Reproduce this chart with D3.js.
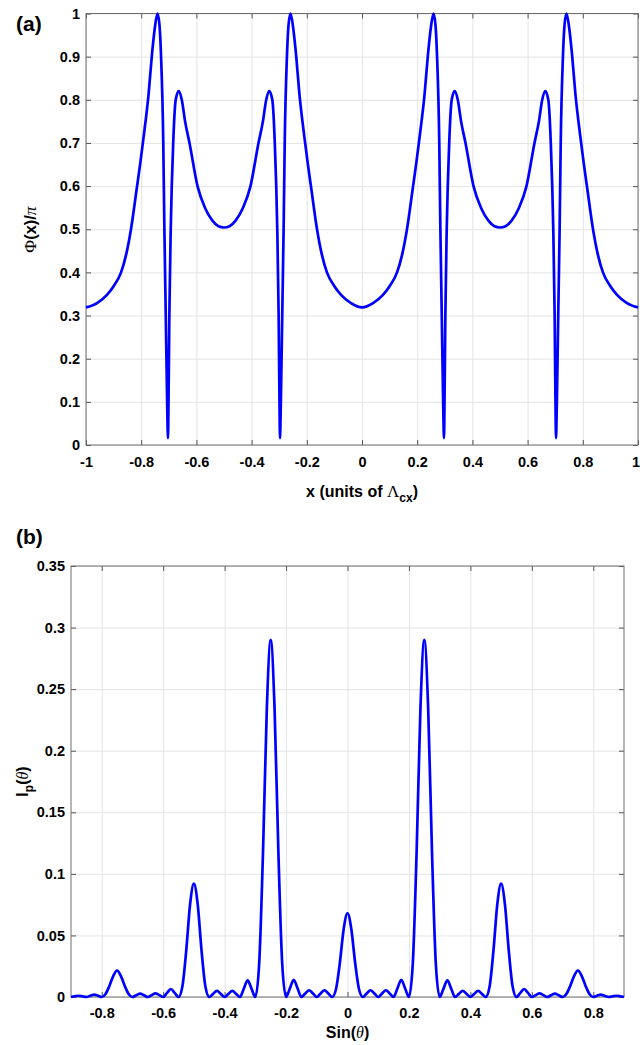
<!DOCTYPE html>
<html lang="en">
<head>
<meta charset="UTF-8">
<title>Phase and far field</title>
<script src="https://d3js.org/d3.v7.min.js"></script>
<style>
  body { margin: 0; background: #fff; }
  svg { display: block; font-family: "Liberation Sans", Arial, Helvetica, sans-serif; }
</style>
</head>
<body>
<div id="container"></div>
<script>
// (a) phase profile Phi(x)/pi
var phiX = [
  -1.000,-0.960,-0.924,-0.900,-0.873,-0.855,-0.837,-0.816,-0.803,-0.792,
  -0.773,-0.761,-0.750,-0.741,-0.734,-0.728,-0.720,-0.716,-0.711,-0.706,
  -0.703,-0.701,-0.698,-0.693,-0.684,-0.675,-0.664,-0.653,-0.641,-0.625,
  -0.596,-0.569,-0.542,-0.520,-0.500,-0.480,-0.458,-0.431,-0.404,-0.375,
  -0.359,-0.347,-0.336,-0.325,-0.316,-0.307,-0.302,-0.299,-0.297,-0.294,
  -0.289,-0.284,-0.280,-0.272,-0.266,-0.259,-0.250,-0.239,-0.227,-0.208,
  -0.197,-0.184,-0.163,-0.145,-0.127,-0.100,-0.076,-0.040,0.000,
  0.040,0.076,0.100,0.127,0.145,0.163,0.184,0.197,0.208,0.227,
  0.239,0.250,0.259,0.266,0.272,0.280,0.284,0.289,0.294,0.297,
  0.299,0.302,0.307,0.316,0.325,0.336,0.347,0.359,0.375,0.404,
  0.431,0.458,0.480,0.500,0.520,0.542,0.569,0.596,0.625,0.641,
  0.653,0.664,0.675,0.684,0.693,0.698,0.701,0.703,0.706,0.711,
  0.716,0.720,0.728,0.734,0.741,0.750,0.761,0.773,0.792,0.803,
  0.816,0.837,0.855,0.873,0.900,0.924,0.960,1.000
];
var phiY = [
  0.319,0.329,0.348,0.368,0.400,0.440,0.500,0.595,0.655,0.710,
  0.815,0.905,0.970,1.000,0.975,0.900,0.700,0.500,0.300,0.100,
  0.016,0.100,0.300,0.500,0.700,0.800,0.820,0.800,0.750,0.700,
  0.600,0.550,0.520,0.507,0.504,0.507,0.520,0.550,0.600,0.700,
  0.750,0.800,0.820,0.800,0.700,0.500,0.300,0.100,0.016,0.100,
  0.300,0.500,0.700,0.900,0.975,1.000,0.970,0.905,0.815,0.710,
  0.655,0.595,0.500,0.440,0.400,0.368,0.348,0.329,0.319,
  0.329,0.348,0.368,0.400,0.440,0.500,0.595,0.655,0.710,0.815,
  0.905,0.970,1.000,0.975,0.900,0.700,0.500,0.300,0.100,0.016,
  0.100,0.300,0.500,0.700,0.800,0.820,0.800,0.750,0.700,0.600,
  0.550,0.520,0.507,0.504,0.507,0.520,0.550,0.600,0.700,0.750,
  0.800,0.820,0.800,0.700,0.500,0.300,0.100,0.016,0.100,0.300,
  0.500,0.700,0.900,0.975,1.000,0.970,0.905,0.815,0.710,0.655,
  0.595,0.500,0.440,0.400,0.368,0.348,0.329,0.319
];

// (b) far-field intensity I_p(theta) against sin(theta)
var sinX = [
  -0.900,-0.888,-0.876,-0.863,-0.850,-0.837,-0.824,-0.812,-0.800,-0.7875,
  -0.775,-0.7625,-0.750,-0.7375,-0.725,-0.7125,-0.700,-0.6875,-0.675,-0.6625,
  -0.650,-0.6375,-0.625,-0.6125,-0.600,-0.5875,-0.575,-0.5625,-0.550,-0.5375,
  -0.525,-0.5125,-0.500,-0.4875,-0.475,-0.4625,-0.450,-0.4375,-0.425,-0.4125,
  -0.400,-0.3875,-0.375,-0.3625,-0.350,-0.3375,-0.325,-0.3125,-0.300,-0.2875,
  -0.275,-0.2625,-0.250,-0.2375,-0.225,-0.2125,-0.200,-0.1875,-0.175,-0.1625,
  -0.150,-0.1375,-0.125,-0.1125,-0.100,-0.0875,-0.075,-0.0625,-0.050,-0.0375,
  -0.025,-0.0125,0.000,
  0.0125,0.025,0.0375,0.050,0.0625,0.075,0.0875,0.100,0.1125,0.125,
  0.1375,0.150,0.1625,0.175,0.1875,0.200,0.2125,0.225,0.2375,0.250,
  0.2625,0.275,0.2875,0.300,0.3125,0.325,0.3375,0.350,0.3625,0.375,
  0.3875,0.400,0.4125,0.425,0.4375,0.450,0.4625,0.475,0.4875,0.500,
  0.5125,0.525,0.5375,0.550,0.5625,0.575,0.5875,0.600,0.6125,0.625,
  0.6375,0.650,0.6625,0.675,0.6875,0.700,0.7125,0.725,0.7375,0.750,
  0.7625,0.775,0.7875,0.800,0.812,0.824,0.837,0.850,0.863,0.876,
  0.888,0.900
];
var intY = [
  0.0000,0.0006,0.0010,0.0006,0.0000,0.0010,0.0020,0.0010,0.0000,0.0025,
  0.0090,0.0170,0.0215,0.0170,0.0090,0.0025,0.0000,0.0014,0.0027,0.0014,
  0.0000,0.0015,0.0030,0.0015,0.0000,0.0033,0.0065,0.0033,0.0000,0.0085,
  0.0375,0.0750,0.0920,0.0750,0.0375,0.0085,0.0000,0.0025,0.0050,0.0025,
  0.0000,0.0025,0.0050,0.0025,0.0000,0.0068,0.0135,0.0068,0.0000,0.0270,
  0.1180,0.2350,0.2900,0.2350,0.1180,0.0270,0.0000,0.0070,0.0140,0.0070,
  0.0000,0.0028,0.0055,0.0028,0.0000,0.0028,0.0055,0.0028,0.0000,0.0063,
  0.0275,0.0550,0.0680,
  0.0550,0.0275,0.0063,0.0000,0.0028,0.0055,0.0028,0.0000,0.0028,0.0055,
  0.0028,0.0000,0.0070,0.0140,0.0070,0.0000,0.0270,0.1180,0.2350,0.2900,
  0.2350,0.1180,0.0270,0.0000,0.0068,0.0135,0.0068,0.0000,0.0025,0.0050,
  0.0025,0.0000,0.0025,0.0050,0.0025,0.0000,0.0085,0.0375,0.0750,0.0920,
  0.0750,0.0375,0.0085,0.0000,0.0033,0.0065,0.0033,0.0000,0.0015,0.0030,
  0.0015,0.0000,0.0014,0.0027,0.0014,0.0000,0.0025,0.0090,0.0170,0.0215,
  0.0170,0.0090,0.0025,0.0000,0.0010,0.0020,0.0010,0.0000,0.0006,0.0010,
  0.0006,0.0000
];

// tick values
var phiXTicks = [-1,-0.8,-0.6,-0.4,-0.2,0,0.2,0.4,0.6,0.8,1];
var phiYTicks = [0,0.1,0.2,0.3,0.4,0.5,0.6,0.7,0.8,0.9,1];
var sinXTicks = [-0.8,-0.6,-0.4,-0.2,0,0.2,0.4,0.6,0.8];
var intYTicks = [0,0.05,0.1,0.15,0.2,0.25,0.3,0.35];

var width = 640, height = 1045;
var svg = d3.select("#container").append("svg").attr("width", width).attr("height", height);

var fmt = function(d) { return String(+d.toFixed(2)); };

function drawPanel(p) {
  var w = p.right - p.left, h = p.bottom - p.top;
  var x = d3.scaleLinear().domain(p.xDomain).range([0, w]);
  var y = d3.scaleLinear().domain(p.yDomain).range([h, 0]);
  var g = svg.append("g").attr("transform", `translate(${p.left},${p.top})`);

  // grid
  g.append("g").attr("class", "grid").attr("transform", `translate(0,${h})`)
    .call(d3.axisBottom(x).tickValues(p.xTicks).tickSize(-h).tickFormat(""));
  g.append("g").attr("class", "grid")
    .call(d3.axisLeft(y).tickValues(p.yTicks).tickSize(-w).tickFormat(""));
  g.selectAll(".grid path").remove();
  g.selectAll(".grid line").attr("stroke", "#e4e4e4").attr("stroke-width", 1);

  // axes, ticks pointing inward on all four sides
  var bottom = g.append("g").attr("transform", `translate(0,${h})`)
    .call(d3.axisBottom(x).tickValues(p.xTicks).tickSizeInner(-5).tickSizeOuter(0)
      .tickPadding(p.xPad).tickFormat(fmt));
  var left = g.append("g")
    .call(d3.axisLeft(y).tickValues(p.yTicks).tickSizeInner(-5).tickSizeOuter(0)
      .tickPadding(6).tickFormat(fmt));
  var top = g.append("g")
    .call(d3.axisTop(x).tickValues(p.xTicks).tickSizeInner(-5).tickSizeOuter(0).tickFormat(""));
  var right = g.append("g").attr("transform", `translate(${w},0)`)
    .call(d3.axisRight(y).tickValues(p.yTicks).tickSizeInner(-5).tickSizeOuter(0).tickFormat(""));
  [bottom, left, top, right].forEach(function(a) {
    a.select(".domain").remove();
    a.selectAll("line").attr("stroke", "#555");
    a.selectAll("text").attr("font-size", 14.5).attr("font-weight", "bold")
      .attr("fill", "#000").attr("font-family", "Liberation Sans, Arial, sans-serif");
  });
  // keep the last label inside the page
  bottom.selectAll("text").filter(function(d) { return p.left + x(d) + 5 > width; })
    .attr("dx", -2.5);

  g.append("rect").attr("width", w).attr("height", h)
    .attr("fill", "none").attr("stroke", "#6e6e6e").attr("stroke-width", 1);

  // curve
  var line = d3.line()
    .x(function(d, i) { return x(p.xs[i]); })
    .y(function(d) { return y(d); })
    .curve(d3.curveMonotoneX);
  g.append("path").datum(p.ys)
    .attr("fill", "none")
    .attr("stroke", "#0000ff")
    .attr("stroke-width", 2.7)
    .attr("stroke-linejoin", "round")
    .attr("d", line);
}

drawPanel({left: 86, right: 638, top: 13.5, bottom: 445,
  xDomain: [-1, 1], yDomain: [0, 1], xTicks: phiXTicks, yTicks: phiYTicks,
  xs: phiX, ys: phiY, xPad: 12});

drawPanel({left: 71, right: 624, top: 566, bottom: 997,
  xDomain: [-0.9, 0.9], yDomain: [0, 0.35], xTicks: sinXTicks, yTicks: intYTicks,
  xs: sinX, ys: intY, xPad: 11});

// panel letters
svg.append("text").attr("x", 16).attr("y", 30.5).attr("font-size", 21).attr("font-weight", "bold").text("(a)");
svg.append("text").attr("x", 16).attr("y", 543.5).attr("font-size", 21).attr("font-weight", "bold").text("(b)");

var serif = "Liberation Serif, DejaVu Serif, serif";

// (a) axis labels
var xa = svg.append("text").attr("x", 362).attr("y", 497).attr("text-anchor", "middle")
  .attr("font-size", 16).attr("font-weight", "bold");
xa.append("tspan").text("x (units of ");
xa.append("tspan").attr("font-family", serif).attr("font-weight", "normal").attr("font-size", 17).text("Λ");
xa.append("tspan").attr("dy", 5).attr("font-size", 12).text("cx");
xa.append("tspan").attr("dy", -5).text(")");

var ya = svg.append("text").attr("transform", "translate(36,229.5) rotate(-90)")
  .attr("text-anchor", "middle").attr("font-size", 16.5).attr("font-weight", "bold");
ya.append("tspan").attr("font-family", serif).attr("font-weight", "normal").attr("font-size", 17.5).text("Φ");
ya.append("tspan").text("(x)/");
ya.append("tspan").attr("font-family", serif).attr("font-weight", "normal").attr("font-style", "italic").attr("font-size", 17.5).text("π");

// (b) axis labels
var xb = svg.append("text").attr("x", 347.5).attr("y", 1038).attr("text-anchor", "middle")
  .attr("font-size", 16).attr("font-weight", "bold");
xb.append("tspan").text("Sin(");
xb.append("tspan").attr("font-family", serif).attr("font-weight", "normal").attr("font-style", "italic").text("θ");
xb.append("tspan").text(")");

var yb = svg.append("text").attr("transform", "translate(28,781.5) rotate(-90)")
  .attr("text-anchor", "middle").attr("font-size", 16).attr("font-weight", "bold");
yb.append("tspan").text("I");
yb.append("tspan").attr("dy", 5).attr("font-size", 12).text("p");
yb.append("tspan").attr("dy", -5).text("(");
yb.append("tspan").attr("font-family", serif).attr("font-weight", "normal").attr("font-style", "italic").text("θ");
yb.append("tspan").text(")");
</script>
</body>
</html>
